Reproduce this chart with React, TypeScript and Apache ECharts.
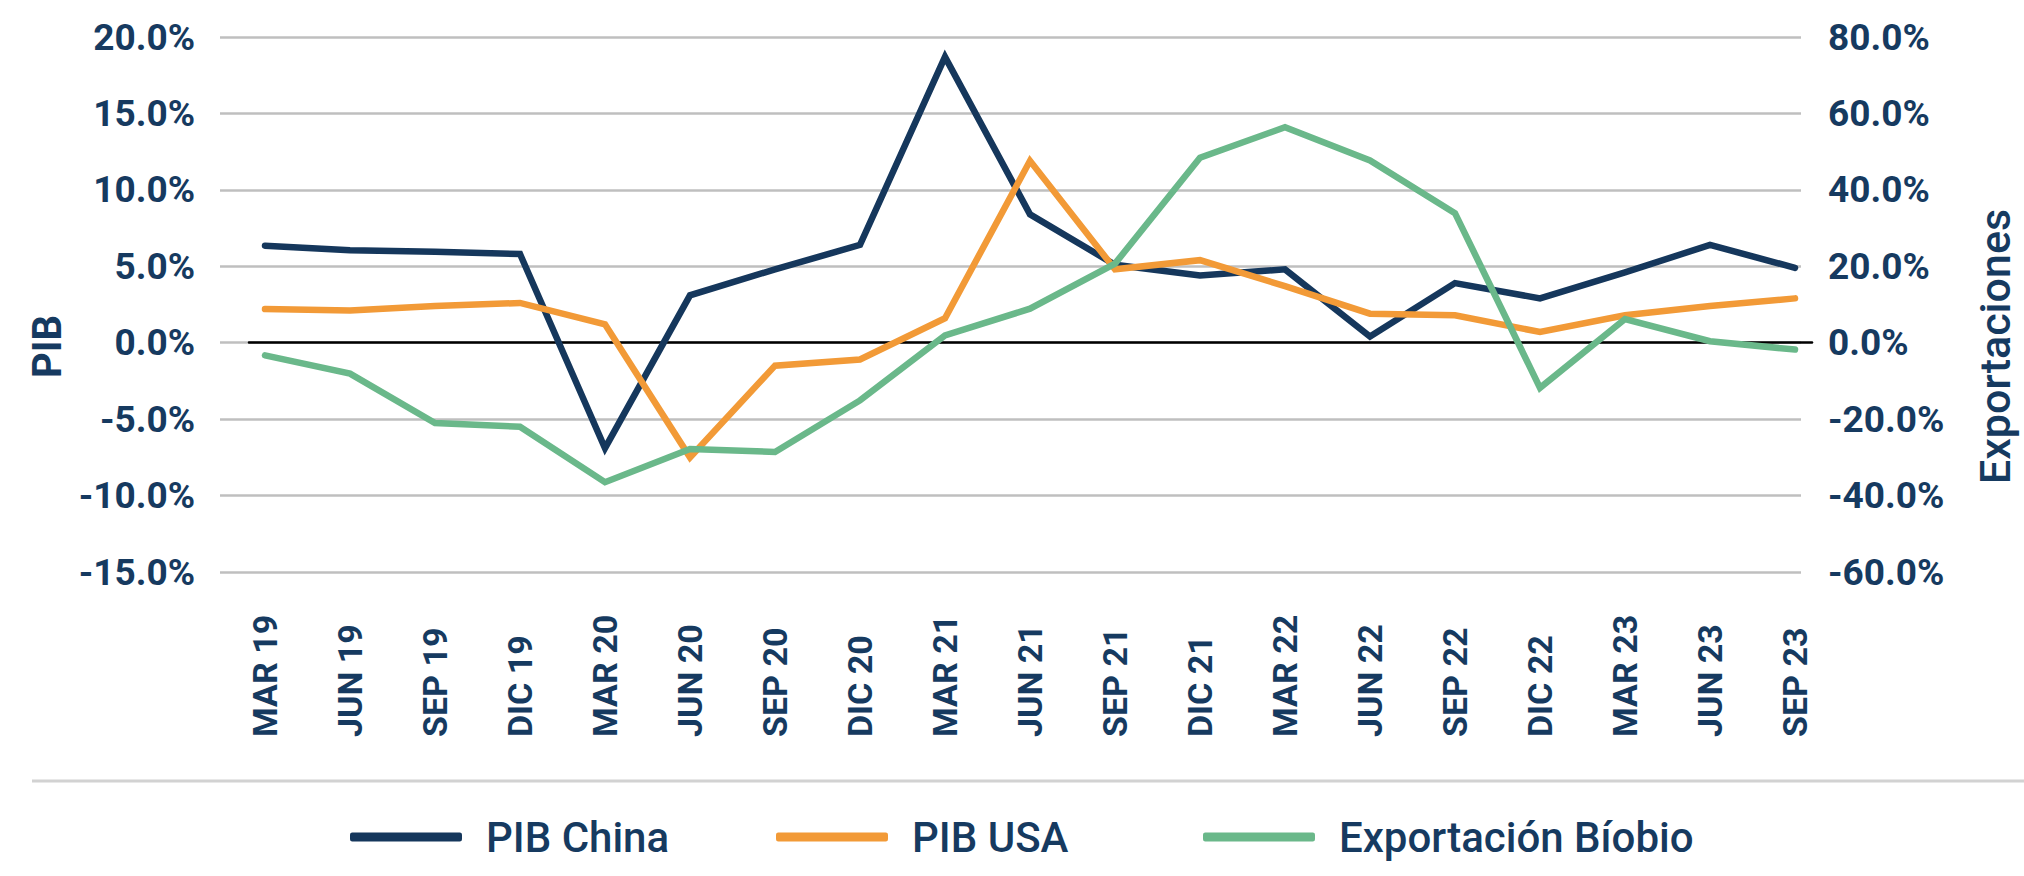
import React, { useEffect, useRef } from "react";
import * as echarts from "echarts";

const categories = [
  "MAR 19", "JUN 19", "SEP 19", "DIC 19",
  "MAR 20", "JUN 20", "SEP 20", "DIC 20",
  "MAR 21", "JUN 21", "SEP 21", "DIC 21",
  "MAR 22", "JUN 22", "SEP 22", "DIC 22",
  "MAR 23", "JUN 23", "SEP 23",
];
const pibChina = [6.35, 6.05, 5.95, 5.8, -6.9, 3.1, 4.8, 6.4, 18.7, 8.4, 5.1, 4.4, 4.8, 0.4, 3.9, 2.9, 4.6, 6.4, 4.9];
const pibUSA = [2.2, 2.1, 2.4, 2.6, 1.2, -7.5, -1.5, -1.1, 1.6, 11.9, 4.8, 5.4, 3.7, 1.9, 1.8, 0.7, 1.8, 2.4, 2.9];
const exportBiobio = [-3.3, -8.1, -21.0, -22.0, -36.5, -27.8, -28.6, -15.1, 1.9, 8.9, 20.7, 48.4, 56.4, 47.7, 33.9, -11.8, 6.2, 0.4, -1.8];

const seriesNames = ["PIB China", "PIB USA", "Exportación Bíobio"];
const leftAxis = { min: -15, max: 20, interval: 5 };
const rightAxis = { min: -60, max: 80, interval: 20 };
const axisNames = { left: "PIB", right: "Exportaciones" };

const NAVY = "#15375c";
const TEXT = "#163a60";
const ORANGE = "#f29a37";
const GREEN = "#6ab88a";

export default function App() {
  const ref = useRef<HTMLDivElement>(null);
  useEffect(() => {
    if (!ref.current) return;
    const chart = echarts.init(ref.current, undefined, { renderer: "svg" });
    const top = 37;
    const bottom = 876 - 572;
    const fmt = (v: number) => v.toFixed(1) + "%";
    const tickLabel = {
      color: TEXT,
      fontFamily: "Roboto",
      fontWeight: "bold" as const,
      fontSize: 37,
    };
    const legendCommon = (name: string, left: number) => ({
      show: true,
      data: [name],
      left,
      top: 811,
      orient: "horizontal" as const,
      icon: "roundRect",
      itemWidth: 112,
      itemHeight: 9,
      textStyle: {
        color: TEXT,
        fontFamily: "Roboto",
        fontWeight: 500,
        fontSize: 42,
        padding: [0, 0, 0, 19],
      },
    });
    chart.setOption({
      animation: false,
      backgroundColor: "#ffffff",
      grid: [
        { left: 265, right: 2024 - 1795, top, bottom },
        { left: 220, right: 2024 - 1820, top, bottom },
        { left: 249, right: 2024 - 1812, top, bottom },
      ],
      legend: [
        legendCommon(seriesNames[0], 345),
        legendCommon(seriesNames[1], 771),
        legendCommon(seriesNames[2], 1198),
      ],
      xAxis: [
        {
          gridIndex: 0,
          type: "category",
          data: categories,
          boundaryGap: false,
          axisLine: { show: false, onZero: false },
          axisTick: { show: false },
          splitLine: { show: false },
          axisLabel: {
            rotate: 90,
            align: "left",
            margin: 165,
            interval: 0,
            color: TEXT,
            fontFamily: "'Liberation Sans Narrow', 'Roboto'",
            fontWeight: "bold",
            fontSize: 34,
          },
        },
        { gridIndex: 1, type: "value", min: 0, max: 1, show: false },
        {
          gridIndex: 2,
          type: "value",
          min: 0,
          max: 1,
          axisLine: { show: true, onZero: true, lineStyle: { color: "#000000", width: 2.5 } },
          axisTick: { show: false },
          axisLabel: { show: false },
          splitLine: { show: false },
        },
      ],
      yAxis: [
        {
          gridIndex: 1,
          type: "value",
          position: "left",
          min: leftAxis.min,
          max: leftAxis.max,
          interval: leftAxis.interval,
          axisLine: { show: false },
          axisTick: { show: false },
          splitLine: { show: true, lineStyle: { color: "#bfbfbf", width: 2.5 } },
          axisLabel: { ...tickLabel, margin: 25, formatter: fmt },
          name: axisNames.left,
          nameLocation: "middle",
          nameRotate: 90,
          nameGap: 150,
          nameTextStyle: {
            color: TEXT,
            fontFamily: "Roboto",
            fontWeight: "bold",
            fontSize: 40,
            padding: [0, 84, 0, 0],
          },
        },
        {
          gridIndex: 1,
          type: "value",
          position: "right",
          min: rightAxis.min,
          max: rightAxis.max,
          interval: rightAxis.interval,
          axisLine: { show: false },
          axisTick: { show: false },
          splitLine: { show: false },
          axisLabel: { ...tickLabel, margin: 27, formatter: fmt },
          name: axisNames.right,
          nameLocation: "middle",
          nameRotate: 90,
          nameGap: 172,
          nameTextStyle: {
            color: TEXT,
            fontFamily: "Roboto",
            fontWeight: 500,
            fontSize: 43,
            padding: [0, 84, 0, 0],
          },
        },
        { gridIndex: 0, type: "value", min: leftAxis.min, max: leftAxis.max, show: false },
        { gridIndex: 0, type: "value", min: rightAxis.min, max: rightAxis.max, show: false },
        { gridIndex: 2, type: "value", min: leftAxis.min, max: leftAxis.max, show: false },
      ],
      series: [
        {
          name: seriesNames[0],
          type: "line",
          xAxisIndex: 0,
          yAxisIndex: 2,
          data: pibChina,
          symbol: "none",
          color: NAVY,
          lineStyle: { width: 6.5, color: NAVY, cap: "round", join: "miter" },
          z: 3,
        },
        {
          name: seriesNames[1],
          type: "line",
          xAxisIndex: 0,
          yAxisIndex: 2,
          data: pibUSA,
          symbol: "none",
          color: ORANGE,
          lineStyle: { width: 6.5, color: ORANGE, cap: "round", join: "miter" },
          z: 4,
        },
        {
          name: seriesNames[2],
          type: "line",
          xAxisIndex: 0,
          yAxisIndex: 3,
          data: exportBiobio,
          symbol: "none",
          color: GREEN,
          lineStyle: { width: 6.5, color: GREEN, cap: "round", join: "miter" },
          z: 5,
        },
      ],
      graphic: [
        {
          type: "line",
          shape: { x1: 32, y1: 781, x2: 2024, y2: 781 },
          style: { stroke: "#d2d2d2", lineWidth: 3 },
          silent: true,
        },
      ],
    });
    return () => chart.dispose();
  }, []);
  return (
    <div
      ref={ref}
      style={{ position: "absolute", left: 0, top: 0, width: 2024, height: 876 }}
    />
  );
}
